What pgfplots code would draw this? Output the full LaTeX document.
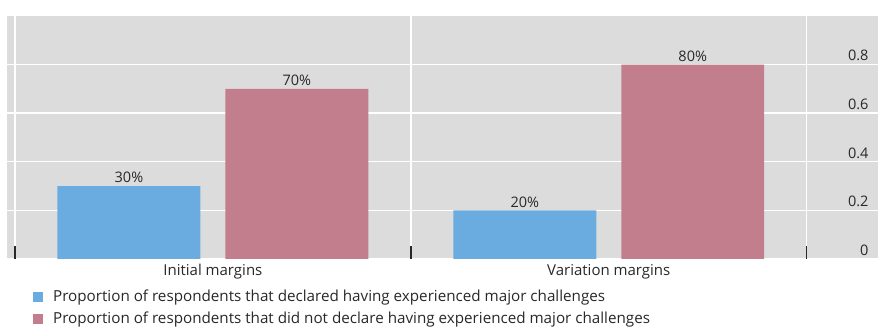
\documentclass[border=0pt]{standalone}
\usepackage{pgfplots}
\pgfplotsset{compat=1.18}
\usepackage{fontspec}
\setmainfont{Open Sans}
\definecolor{cblue}{RGB}{106,172,224}
\definecolor{cred}{RGB}{194,126,141}
\definecolor{cbg}{RGB}{220,220,220}
\definecolor{ctext}{RGB}{40,40,40}
\begin{document}
\begin{tikzpicture}
\useasboundingbox (-7pt,-77pt) rectangle (879pt,259pt);
\begin{axis}[
  at={(0pt,0pt)}, anchor=south west,
  scale only axis, width=871pt, height=243pt,
  xmin=-0.52, xmax=1.68, ymin=0, ymax=1,
  axis background/.style={fill=cbg},
  axis line style={draw=none},
  xtick={0,1}, xticklabels={Initial margins, Variation margins},
  extra x ticks={-0.5,0.5,1.5},
  extra x tick labels={},
  extra x tick style={major tick length=13pt, tick align=inside, xtick pos=lower,
     major x tick style={draw=ctext, line width=1.5pt},
     xmajorgrids=true, major x grid style={white, line width=1.4pt}},
  ytick={0,0.2,0.4,0.6,0.8},
  yticklabel pos=right,
  yticklabel style={anchor=south east, xshift=-6pt, yshift=0pt},
  /pgf/number format/assume math mode=true,
  /pgf/number format/fixed,
  ticklabel style={font=\fontsize{14.5}{17}\selectfont, text=ctext},
  xtick pos=lower,
  tick align=inside,
  major tick length=0pt,
  ymajorgrids=true,
  major y grid style={white, line width=1.4pt},
  xticklabel style={yshift=-2pt, font=\fontsize{15}{18}\selectfont},
  ybar, bar width=0.361,
  nodes near coords={\pgfmathprintnumber[fixed,precision=0]{\pgfplotspointmeta}\%},
  point meta=explicit,
  every node near coord/.append style={font=\fontsize{14.5}{17}\selectfont, text=ctext, inner sep=3pt},
  legend style={draw=none, fill=none, at={(0,0)}, anchor=north west, xshift=23pt, yshift=-27pt,
    font=\fontsize{15.2}{18}\selectfont, text=ctext, row sep=5pt, cells={anchor=west},
    /tikz/every odd column/.append style={column sep=8pt}},
  legend image code/.code={\fill[#1,draw=none] (0pt,-5pt) rectangle (10pt,5pt);},
]
\addplot[fill=cblue, draw=none, bar shift=-0.212] coordinates {(0,0.3) [30] (1,0.2) [20]};
\addplot[fill=cred, draw=none, bar shift=0.212] coordinates {(0,0.7) [70] (1,0.8) [80]};
\legend{Proportion of respondents that declared having experienced major challenges,
Proportion of respondents that did not declare having experienced major challenges}
\end{axis}
\end{tikzpicture}
\end{document}
